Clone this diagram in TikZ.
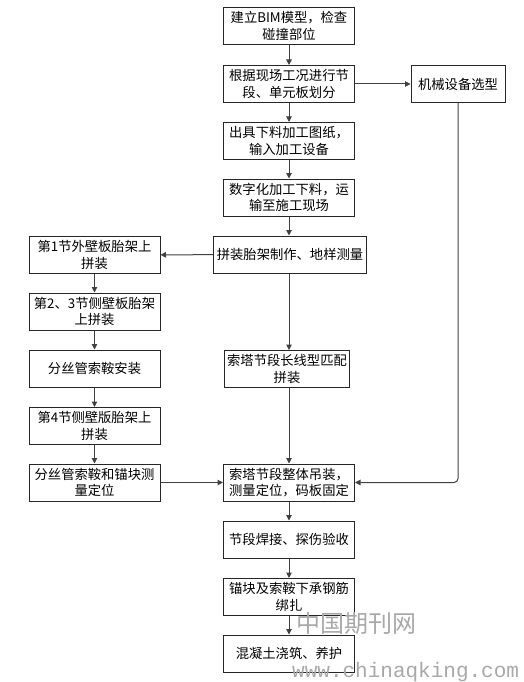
\documentclass[tikz,border=0pt]{standalone}
\usepackage{fontspec}
\newfontfamily\cjk{Noto Sans CJK SC}
\newfontfamily\wmono{Liberation Mono}
\usetikzlibrary{arrows.meta}
\definecolor{linegray}{HTML}{404040}
\definecolor{wmgray}{HTML}{A8A8A8}
\tikzset{
  box/.style={draw=black!85, line width=1pt, fill=white, align=center, inner sep=1pt,
    font=\cjk\fontsize{13.3}{16.5}\selectfont, minimum height=37pt},
  mainbox/.style={box, minimum width=131pt},
  leftbox/.style={box, minimum width=131pt},
  conn/.style={draw=linegray, line width=1pt, -{Triangle[length=5.5pt,width=5.5pt]}},
  wm/.style={text=wmgray, inner sep=0pt}
}
\begin{document}
\begin{tikzpicture}[x=1pt,y=-1pt]
\useasboundingbox (0,0) rectangle (524,682);
% main column
\node[mainbox] (b1) at (289,26) {建立BIM模型，检查\\碰撞部位};
\node[mainbox] (b2) at (289,84) {根据现场工况进行节\\段、单元板划分};
\node[mainbox] (b3) at (289,141) {出具下料加工图纸，\\输入加工设备};
\node[mainbox] (b4) at (289,197.5) {数字化加工下料，运\\输至施工现场};
\node[box, minimum width=153pt] (b5) at (290,254.5) {拼装胎架制作、地样测量};
\node[box, minimum width=125pt] (b6) at (287,369) {索塔节段长线型匹配\\拼装};
\node[mainbox] (b7) at (289,482.5) {索塔节段整体吊装，\\测量定位，码板固定};
\node[mainbox] (b8) at (289,539.5) {节段焊接、探伤验收};
\node[mainbox] (b9) at (289,597) {锚块及索鞍下承钢筋\\绑扎};
\node[mainbox] (b10) at (289,653.5) {混凝土浇筑、养护};
% side
\node[box, minimum width=94pt] (m) at (458,84) {机械设备选型};
% left column
\node[leftbox] (l1) at (94.5,255) {第1节外壁板胎架上\\拼装};
\node[leftbox] (l2) at (94.5,311.5) {第2、3节侧壁板胎架\\上拼装};
\node[leftbox] (l3) at (94.5,368.5) {分丝管索鞍安装};
\node[leftbox] (l4) at (94.5,426) {第4节侧壁版胎架上\\拼装};
\node[leftbox] (l5) at (94.5,482.5) {分丝管索鞍和锚块测\\量定位};
% connectors
\draw[conn] (b1) -- (b2);
\draw[conn] (b2) -- (b3);
\draw[conn] (b3) -- (b4);
\draw[conn] (b4.south) -- (b4.south |- b5.north);
\draw[conn] (b4.south |- b5.south) -- (b4.south |- b6.north);
\draw[conn] (b4.south |- b6.south) -- (b7.north);
\draw[conn] (b7) -- (b8);
\draw[conn] (b8) -- (b9);
\draw[conn] (b9) -- (b10);
\draw[conn] (b2) -- (m);
\draw[conn, rounded corners=4pt] (m.south) |- (b7.east);
\draw[conn] (b5) -- (l1);
\draw[conn] (l1) -- (l2);
\draw[conn] (l2) -- (l3);
\draw[conn] (l3) -- (l4);
\draw[conn] (l4) -- (l5);
\draw[conn] (l5) -- (b7);
% watermark
\node[wm, anchor=west, font=\cjk\fontsize{24}{24}\selectfont] (wm1) at (296,623) {中国期刊网};
\node[wm, anchor=west, font=\wmono\fontsize{21}{21}\selectfont] (wm2) at (292,672) {www.chinaqking.com};
\end{tikzpicture}
\end{document}
